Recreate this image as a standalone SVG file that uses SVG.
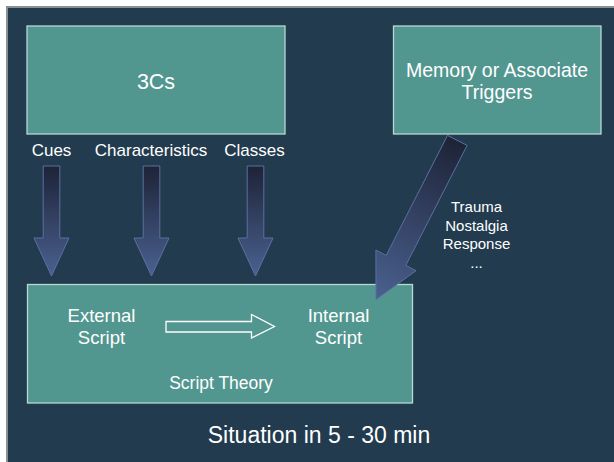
<svg xmlns="http://www.w3.org/2000/svg" width="614" height="462" viewBox="0 0 614 462">
  <defs>
    <linearGradient id="gv" x1="0" y1="0" x2="0" y2="1">
      <stop offset="0" stop-color="#1E2337"/>
      <stop offset="1" stop-color="#4A6190"/>
    </linearGradient>
    <linearGradient id="gd" gradientUnits="userSpaceOnUse" x1="457" y1="140" x2="376" y2="300">
      <stop offset="0" stop-color="#1E2337"/>
      <stop offset="1" stop-color="#4A6190"/>
    </linearGradient>
  </defs>
  <style>
    .box { fill: #529690; stroke: #B9D9D5; stroke-width: 1.3; }
    .fat { fill: url(#gv); stroke: #5B70A0; stroke-width: 1; }
    .t { font-family: "Liberation Sans", Arial, sans-serif; fill: #FFFFFF; text-anchor: middle; }
  </style>
  <rect x="0" y="0" width="614" height="462" fill="#FFFFFF"/>
  <rect x="6" y="6" width="608" height="456" fill="#8A8F94"/>
  <rect x="8" y="8" width="606" height="454" fill="#223B4E"/>

  <g id="node-3cs">
    <rect class="box" x="27" y="26" width="258" height="108"/>
    <text class="t" x="156" y="88.5" font-size="21.5">3Cs</text>
  </g>
  <g id="node-memory">
    <rect class="box" x="393.5" y="26" width="207.5" height="108"/>
    <text class="t" x="497" y="77" font-size="19.5">Memory or Associate</text>
    <text class="t" x="497" y="99" font-size="19.5">Triggers</text>
  </g>
  <g id="node-script-theory">
    <rect class="box" x="27.5" y="284.5" width="385" height="118.5"/>
    <text class="t" x="101.5" y="321.5" font-size="18.5">External</text>
    <text class="t" x="101.5" y="343.5" font-size="18.5">Script</text>
    <text class="t" x="338.5" y="321.5" font-size="18.5">Internal</text>
    <text class="t" x="338.5" y="343.5" font-size="18.5">Script</text>
    <text class="t" x="221" y="389" font-size="17.5">Script Theory</text>
  </g>
  <g id="labels">
    <text class="t" x="51.5" y="156" font-size="17">Cues</text>
    <text class="t" x="151" y="156" font-size="17">Characteristics</text>
    <text class="t" x="254.5" y="156" font-size="17">Classes</text>
    <text class="t" x="476.5" y="212" font-size="15">Trauma</text>
    <text class="t" x="476.5" y="231" font-size="15">Nostalgia</text>
    <text class="t" x="476.5" y="249" font-size="15">Response</text>
    <text class="t" x="476.5" y="268" font-size="15">...</text>
    <text class="t" x="319" y="442.5" font-size="23">Situation in 5 - 30 min</text>
  </g>
  <g id="connectors">
    <polygon class="fat" points="43.2,166 59.8,166 59.8,238 69,238 51.5,276 34,238 43.2,238"/>
    <polygon class="fat" points="143.2,166 159.8,166 159.8,238 169,238 151.5,276 134,238 143.2,238"/>
    <polygon class="fat" points="247.2,166 263.8,166 263.8,238 273,238 255.5,276 238,238 247.2,238"/>
    <polygon class="fat" style="fill:url(#gd)" points="447.5,135.4 467.1,145.4 405.8,265.4 416.1,270.7 376,299.5 375.9,250.1 386.2,255.4"/>
    <polygon fill="none" stroke="#FFFFFF" stroke-width="1.3" stroke-linejoin="miter" points="166,321.5 251.5,321.5 251.5,314.5 274.5,326.5 251.5,338 251.5,332 166,332"/>
  </g>
</svg>
